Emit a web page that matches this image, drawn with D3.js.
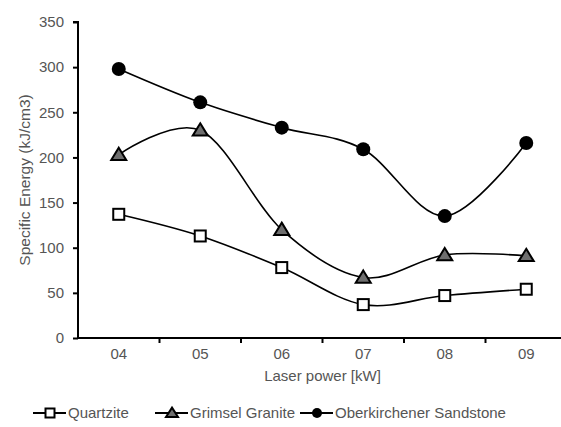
<!DOCTYPE html>
<html><head><meta charset="utf-8">
<script src="https://cdn.jsdelivr.net/npm/d3@7"></script>
<style>body{margin:0;background:#fff}svg{display:block}text{font-family:"Liberation Sans",Arial,sans-serif}</style>
</head><body><svg id="c" width="561" height="427"></svg>
<script>
const categories = ["04","05","06","07","08","09"];
const quartzite = [137,113,78,37,47,54];
const granite = [203,230,120,67,92,91];
const sandstone = [298,261,233,209,135,216];
const yTicks = [0,50,100,150,200,250,300,350];
const seriesNames = ["Quartzite","Grimsel Granite","Oberkirchener Sandstone"];

const svg = d3.select("#c");
const pLeft = 78, pRight = 567, pTop = 22, pBottom = 338;
const x = d3.scaleBand().domain(categories).range([pLeft, pRight]);
const y = d3.scaleLinear().domain([0,350]).range([pBottom, pTop]);
const txt = "#555";

// y axis
const ya = svg.append("g").attr("transform",`translate(${pLeft},0)`)
  .call(d3.axisLeft(y).tickValues(yTicks).tickSize(5).tickPadding(9));
ya.select(".domain").attr("stroke","#000").attr("stroke-width",2).attr("d",`M-5,${pTop}H0V${pBottom}`);
ya.selectAll(".tick line").attr("stroke","#000").attr("stroke-width",2);
ya.selectAll(".tick text").attr("fill",txt).style("font-size","15px");

// x axis
const xa = svg.append("g").attr("transform",`translate(0,${pBottom})`)
  .call(d3.axisBottom(x).tickSize(0).tickPadding(10));
xa.select(".domain").attr("stroke","#000").attr("stroke-width",2).attr("d",`M${pLeft},0H561`);
xa.selectAll(".tick text").attr("fill",txt).style("font-size","15px");
const bounds = categories.map(c => x(c)).concat([x(categories[categories.length-1]) + x.bandwidth()]);
xa.selectAll(".bt").data(bounds.slice(1)).enter().append("line")
  .attr("x1",d=>d).attr("x2",d=>d).attr("y1",0).attr("y2",5)
  .attr("stroke","#000").attr("stroke-width",2);

// titles
svg.append("text").attr("transform",`translate(30,${(pTop+pBottom)/2}) rotate(-90)`)
  .attr("text-anchor","middle").attr("fill",txt).style("font-size","15.5px")
  .text("Specific Energy (kJ/cm3)");
svg.append("text").attr("x",(pLeft+561)/2+3).attr("y",381).attr("text-anchor","middle")
  .attr("fill",txt).style("font-size","15px").text("Laser power [kW]");

const line = d3.line().x((d,i)=>x(categories[i])+x.bandwidth()/2).y(d=>y(d))
  .curve(d3.curveCatmullRom.alpha(0));

function marker(g, type, cx, cy, s) {
  if (type==="square") {
    g.append("rect").attr("x",cx-s/2).attr("y",cy-s/2).attr("width",s).attr("height",s)
      .attr("fill","#fff").attr("stroke","#000").attr("stroke-width",2);
  } else if (type==="triangle") {
    const h = s*0.9;
    g.append("path").attr("d",`M${cx},${cy-h*0.6}L${cx+s/2+1},${cy+h*0.45}L${cx-s/2-1},${cy+h*0.45}Z`)
      .attr("fill","#6e6e6e").attr("stroke","#000").attr("stroke-width",2).attr("stroke-linejoin","miter");
  } else {
    g.append("circle").attr("cx",cx).attr("cy",cy).attr("r",s/2).attr("fill","#000");
  }
}

const series = [
  {name:seriesNames[0], values:quartzite, type:"square"},
  {name:seriesNames[1], values:granite, type:"triangle"},
  {name:seriesNames[2], values:sandstone, type:"circle"}
];
const sizes = {square:11, triangle:13, circle:14};
series.forEach(s => {
  const g = svg.append("g");
  g.append("path").attr("d", line(s.values)).attr("fill","none").attr("stroke","#000").attr("stroke-width",1.6);
  s.values.forEach((v,i) => marker(g, s.type, x(categories[i])+x.bandwidth()/2, y(v), sizes[s.type]));
});

// legend
const legX = [33, 155, 300];
const legY = 418;
const lsz = {square:9, triangle:10, circle:10};
series.forEach((s,i) => {
  const g = svg.append("g");
  g.append("line").attr("x1",legX[i]).attr("x2",legX[i]+33).attr("y1",legY-5).attr("y2",legY-5)
    .attr("stroke","#000").attr("stroke-width",2);
  marker(g, s.type, legX[i]+17, legY-5, lsz[s.type]);
  g.append("text").attr("x",legX[i]+35).attr("y",legY).attr("fill",txt).style("font-size","15px").text(s.name);
});
</script></body></html>
